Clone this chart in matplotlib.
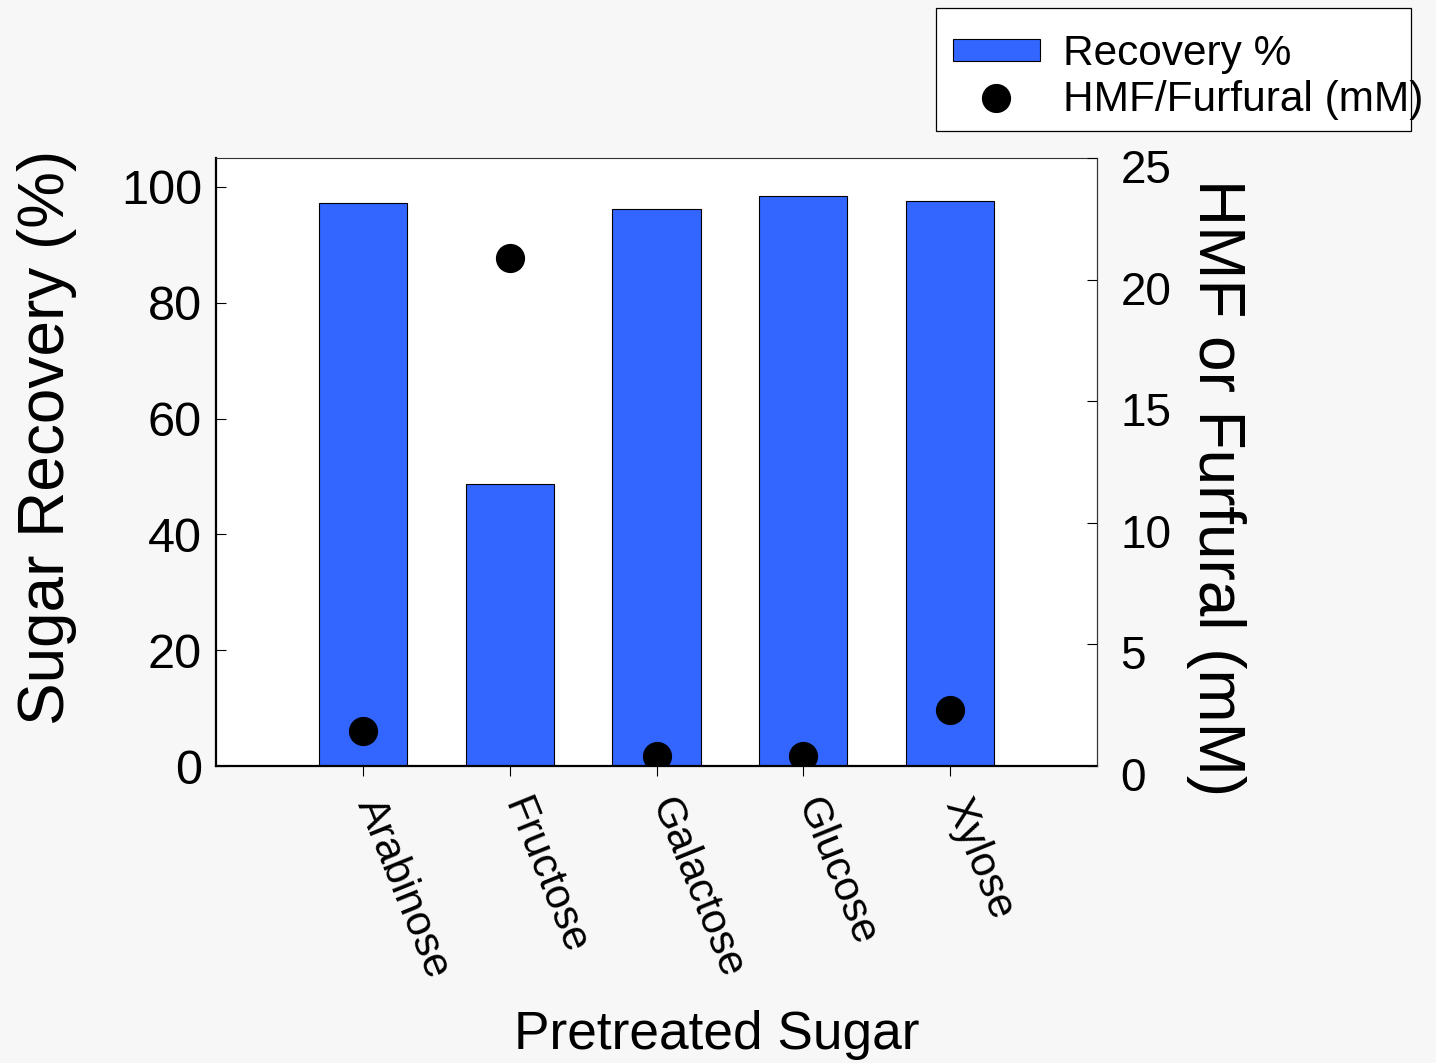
import matplotlib
matplotlib.use("Agg")
import matplotlib.pyplot as plt
import matplotlib.transforms as mtransforms
from matplotlib.patches import Rectangle
import numpy as np

# ---- data ----
sugars = ["Arabinose", "Fructose", "Galactose", "Glucose", "Xylose"]
recovery_pct = [97.2, 48.7, 96.2, 98.4, 97.5]
hmf_furfural_mM = [1.45, 20.9, 0.4, 0.4, 2.3]
left_ticks = [0, 20, 40, 60, 80, 100]
right_ticks = [0, 5, 10, 15, 20, 25]

plt.rcParams['font.family'] = ['Liberation Sans', 'DejaVu Sans']

W, H = 1436, 1063
fig = plt.figure(figsize=(W / 100, H / 100), dpi=100)
fig.patch.set_facecolor('#f7f7f7')

ax = fig.add_axes([216 / W, 1 - 766 / H, (1097 - 216) / W, (766 - 158) / H])
ax.set_facecolor('white')
x = np.arange(len(sugars))
ax.bar(x, recovery_pct, width=0.6, color='#3366ff', edgecolor='black',
       linewidth=0.8, label='Recovery %', zorder=2)
ax.set_xlim(-1, 5)
ax.set_ylim(0, 105)
ax.set_yticks(left_ticks)
ax.set_xticks(x)
ax.set_xticklabels(sugars, rotation=-68, ha='left', va='baseline',
                   rotation_mode='anchor')
ax.tick_params(axis='y', direction='in', length=7, width=0.8,
               labelsize=35, pad=10)
ax.tick_params(axis='x', direction='out', length=7, width=0.8,
               labelsize=30.5, pad=20)
for s in ['left', 'bottom']:
    ax.spines[s].set_linewidth(1.6)
for s in ['top', 'right']:
    ax.spines[s].set_linewidth(0.8)
    ax.spines[s].set_color('#333333')

xoff = mtransforms.ScaledTranslation(-0.06, 0, fig.dpi_scale_trans)
for t in ax.xaxis.get_major_ticks():
    t.label1.set_transform(t.label1.get_transform() + xoff)

ax2 = ax.twinx()
ax2.plot(x, hmf_furfural_mM, linestyle='none', marker='o', markersize=20,
         color='black', label='HMF/Furfural (mM)', zorder=3)
ax2.set_ylim(0, 25)
ax2.set_yticks(right_ticks)
ax2.tick_params(axis='y', direction='in', length=7, width=0.8,
                labelsize=33, pad=17)
for s in ['left', 'bottom', 'top']:
    ax2.spines[s].set_visible(False)
ax2.spines['right'].set_linewidth(0.8)
ax2.spines['right'].set_color('#333333')

off = mtransforms.ScaledTranslation(0, -0.08, fig.dpi_scale_trans)
for t in ax2.yaxis.get_major_ticks():
    t.label2.set_transform(t.label2.get_transform() + off)

# axis labels
fig.text(47 / W, 1 - 437 / H, 'Sugar Recovery (%)', rotation=90,
         ha='center', va='center', fontsize=46)
fig.text(1216 / W, 1 - 488 / H, 'HMF or Furfural (mM)', rotation=-90,
         ha='center', va='center', fontsize=46)
fig.text(717 / W, 1 - 1035 / H, 'Pretreated Sugar', ha='center',
         va='center', fontsize=38.3)

# legend
h1, l1 = ax.get_legend_handles_labels()
h2, l2 = ax2.get_legend_handles_labels()
leg = fig.legend(h1 + h2, l1 + l2, loc='upper left',
                 bbox_to_anchor=(953 / W, 1 - 34 / H), frameon=False,
                 fontsize=30.5, handlelength=2.05, handleheight=0.4,
                 handletextpad=0.55, labelspacing=0.15, borderpad=0,
                 borderaxespad=0)
fig.patches.append(Rectangle((936 / W, 1 - 131 / H), (1411 - 936) / W,
                             (131 - 8) / H, transform=fig.transFigure,
                             facecolor='white', edgecolor='black',
                             linewidth=0.9, zorder=0))

fig.savefig('out.png', dpi=100, facecolor=fig.get_facecolor())
